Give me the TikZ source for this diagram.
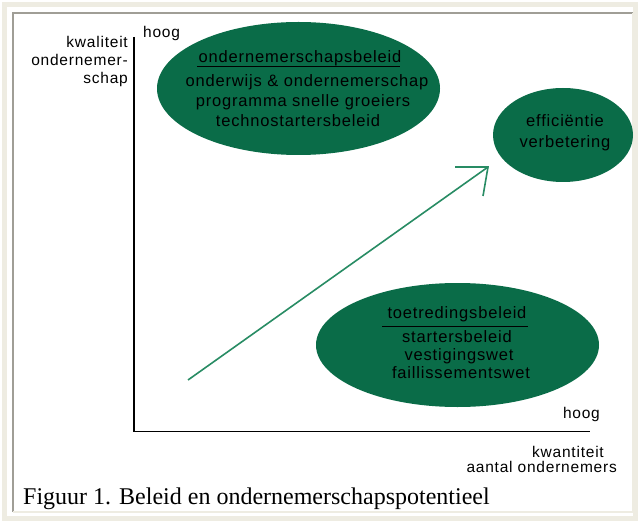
\documentclass[tikz,border=0pt]{standalone}
\usepackage{fontspec}
\setmainfont{Liberation Serif}
\setsansfont{Liberation Sans}
\newfontfamily\spsans[LetterSpace=5]{Liberation Sans}
\definecolor{ellgreen}{RGB}{10,108,72}
\definecolor{arrgreen}{RGB}{40,140,100}
\definecolor{beige}{RGB}{238,236,226}
\definecolor{framegray}{RGB}{160,158,150}
\begin{document}
\begin{tikzpicture}[x=1pt,y=-1pt,
  etext/.style={font=\spsans\fontsize{16.5}{20}\selectfont,text=black,inner sep=0pt},
  lbl/.style={font=\spsans\fontsize{15.5}{17.5}\selectfont,inner sep=0pt},
  axis/.style={line width=1.6pt,black}]
\useasboundingbox (0,0) rectangle (639,521);
\fill[white] (0,0) rectangle (639,521);
\draw[beige,line width=5] (4.5,4.5) rectangle (635,518);
\draw[framegray,line width=1.5] (13,512) -- (13,13) -- (633,13);
\draw[beige,line width=1.5] (633,13) -- (633,512) -- (13,512);
% ellipses
\fill[ellgreen] (298.5,88.5) ellipse [x radius=141.5,y radius=66.5];
\fill[ellgreen] (563,135) ellipse [x radius=70,y radius=47];
\fill[ellgreen] (457.5,345) ellipse [x radius=141.5,y radius=62];
\node[etext,anchor=base] (e1a) at (300,63) {ondernemerschapsbeleid};
\draw[black,line width=0.6] (197,66.5) -- (400,66.5);
\node[etext,anchor=base] (e1b) at (307,87) {onderwijs \& ondernemerschap};
\node[etext,anchor=base] (e1c) at (303,107) {programma snelle groeiers};
\node[etext,anchor=base] (e1d) at (298,127) {technostartersbeleid};
\node[etext,anchor=base] (e2a) at (565,127) {efficiëntie};
\node[etext,anchor=base] (e2b) at (565,148) {verbetering};
\node[etext,anchor=base] (e3a) at (457,318) {toetredingsbeleid};
\draw[black,line width=0.6] (382,326.5) -- (528,326.5);
\node[etext,anchor=base] (e3b) at (457,342) {startersbeleid};
\node[etext,anchor=base] (e3c) at (459,360) {vestigingswet};
\node[etext,anchor=base] (e3d) at (461,378) {faillissementswet};
% axes
\coordinate (top) at (134,37);
\coordinate (origin) at (134,431.5);
\coordinate (right) at (590,431.5);
\draw[axis] (top) -- (origin) -- (right);
\node[lbl,anchor=base east] (y1) at (128,48) {kwaliteit};
\node[lbl,anchor=base east] (y2) at (128,66) {ondernemer-};
\node[lbl,anchor=base east] (y3) at (128,84) {schap};
\node[lbl,anchor=base west] (hoog1) at (143,38) {hoog};
\node[lbl,anchor=base east] (hoog2) at (600,418) {hoog};
\node[lbl,anchor=base east] (x1) at (604,457) {kwantiteit};
\node[lbl,anchor=base east] (x2) at (617,472) {aantal ondernemers};
% arrow
\coordinate (as) at (188,380);
\coordinate (ae) at (488,167);
\draw[arrgreen,line width=1.6] (as) -- (ae);
\draw[arrgreen,line width=1.6] (455,167) -- (ae) -- (483,196);
% caption
\node[font=\fontsize{24}{26}\selectfont,anchor=base west,inner sep=0pt] (cap) at (23,504) {Figuur 1. Beleid en ondernemerschapspotentieel};
\end{tikzpicture}
\end{document}
